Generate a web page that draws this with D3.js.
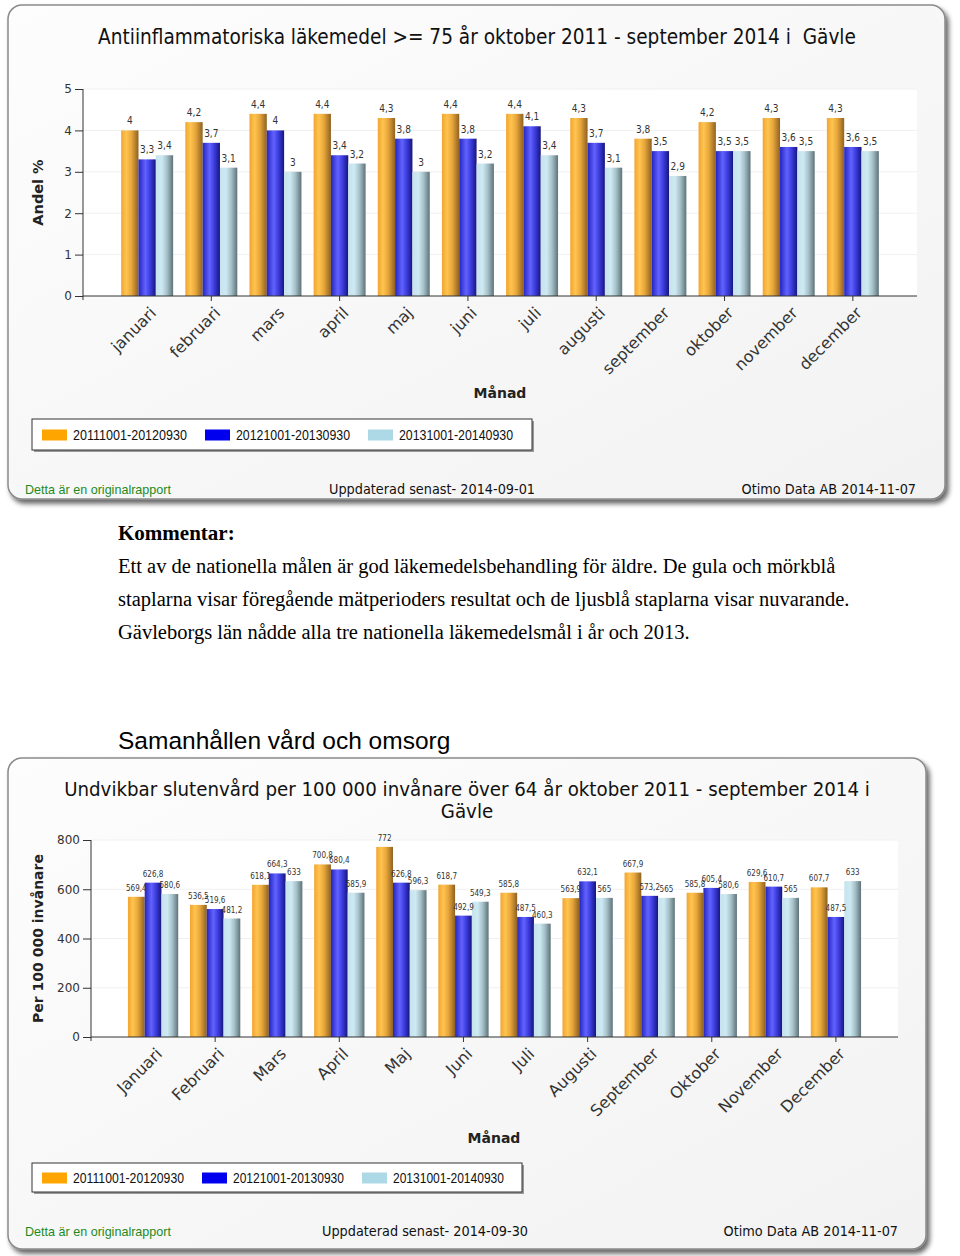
<!DOCTYPE html>
<html><head><meta charset="utf-8">
<script src="https://cdn.jsdelivr.net/npm/d3@7/dist/d3.min.js"></script>
<style>body{margin:0;background:#fff}svg{display:block}</style>
</head><body>
<script>
// ---------- DATA ----------
const monthsLower = ["januari","februari","mars","april","maj","juni","juli","augusti","september","oktober","november","december"];
const monthsCap = ["Januari","Februari","Mars","April","Maj","Juni","Juli","Augusti","September","Oktober","November","December"];
const periods = ["20111001-20120930","20121001-20130930","20131001-20140930"];

const antiinfl_2011_12 = [4, 4.2, 4.4, 4.4, 4.3, 4.4, 4.4, 4.3, 3.8, 4.2, 4.3, 4.3];
const antiinfl_2012_13 = [3.3, 3.7, 4, 3.4, 3.8, 3.8, 4.1, 3.7, 3.5, 3.5, 3.6, 3.6];
const antiinfl_2013_14 = [3.4, 3.1, 3, 3.2, 3, 3.2, 3.4, 3.1, 2.9, 3.5, 3.5, 3.5];
const antiinflTicks = [0, 1, 2, 3, 4, 5];

const sluten_2011_12 = [569.4, 536.5, 618.1, 700.8, 772, 618.7, 585.8, 563.9, 667.9, 585.8, 629.6, 607.7];
const sluten_2012_13 = [626.8, 519.6, 664.3, 680.4, 626.8, 492.9, 487.5, 632.1, 573.2, 605.4, 610.7, 487.5];
const sluten_2013_14 = [580.6, 481.2, 633, 585.9, 596.3, 549.3, 460.3, 565, 565, 580.6, 565, 633];
const slutenTicks = [0, 200, 400, 600, 800];

// ---------- SETUP ----------
const W = 960, H = 1256;
const svg = d3.select("body").append("svg").attr("width", W).attr("height", H);
const defs = svg.append("defs");

const shadow = defs.append("filter").attr("id","shadow").attr("x","-5%").attr("y","-5%").attr("width","115%").attr("height","115%");
shadow.append("feGaussianBlur").attr("in","SourceAlpha").attr("stdDeviation",2.5);
shadow.append("feOffset").attr("dx",3).attr("dy",4).attr("result","ob");
shadow.append("feComponentTransfer").append("feFuncA").attr("type","linear").attr("slope",0.6);
const fm = shadow.append("feMerge"); fm.append("feMergeNode"); fm.append("feMergeNode").attr("in","SourceGraphic");

const panelGrad = defs.append("linearGradient").attr("id","panelGrad").attr("x1",0).attr("y1",0).attr("x2",1).attr("y2",1);
panelGrad.append("stop").attr("offset","0%").attr("stop-color","#fdfdfd");
panelGrad.append("stop").attr("offset","100%").attr("stop-color","#f2f2f2");

function grad(id, stops){
  const g = defs.append("linearGradient").attr("id",id).attr("x1",0).attr("y1",0).attr("x2",1).attr("y2",0);
  stops.forEach(s => g.append("stop").attr("offset", s[0]).attr("stop-color", s[1]));
}
grad("g0", [["0%","#f2a431"],["30%","#ffc44f"],["60%","#e7a53a"],["100%","#8d6222"]]);
grad("g1", [["0%","#2424c0"],["40%","#6262ff"],["70%","#3838d8"],["100%","#16167a"]]);
grad("g2", [["0%","#c6e2ec"],["35%","#cde9f2"],["65%","#a6c0c8"],["100%","#5e7279"]]);
const legendColors = ["#ffa500","#0000ee","#add8e6"];

const fmt = v => String(v).replace(".", ",");
const condensed = "'DejaVu Sans Condensed','DejaVu Sans',sans-serif";

function drawPanel(cfg){
  const g = svg.append("g");
  g.append("rect").attr("x",cfg.px).attr("y",cfg.py).attr("width",cfg.pw).attr("height",cfg.ph)
    .attr("rx",14).attr("fill","url(#panelGrad)").attr("stroke","#8a8a8a").attr("stroke-width",1.5)
    .attr("filter","url(#shadow)");

  cfg.title.forEach((t,i) => {
    g.append("text").attr("x",cfg.titleX).attr("y",cfg.titleY + i*22).attr("text-anchor","middle")
      .attr("font-family",condensed).attr("font-size",cfg.titleSize).style("white-space","pre")
      .attr("fill","#111").text(t);
  });

  const n = cfg.cats.length;
  const bw = (cfg.x1 - cfg.x0) / (n + 1);
  const x = d3.scaleBand().domain(cfg.cats).range([cfg.x0 + bw/2, cfg.x1 - bw/2]).paddingInner(0).paddingOuter(0);
  const y = d3.scaleLinear().domain([0, cfg.ticks[cfg.ticks.length-1]]).range([cfg.y0, cfg.yTop]);
  const xs = d3.scaleBand().domain([0,1,2]).range([-bw*0.405, bw*0.405]);

  g.append("rect").attr("x",cfg.x0).attr("y",cfg.yTop).attr("width",cfg.x1-cfg.x0).attr("height",cfg.y0-cfg.yTop).attr("fill","#fff");
  g.selectAll(".grid").data(cfg.ticks.slice(1)).join("line")
    .attr("x1",cfg.x0).attr("x2",cfg.x1).attr("y1",d=>y(d)).attr("y2",d=>y(d))
    .attr("stroke","#f0f0f0").attr("stroke-width",1);

  const series = cfg.series;
  series.forEach((vals, si) => {
    g.append("g").selectAll("rect").data(vals).join("rect")
      .attr("x",(d,i)=>x(cfg.cats[i]) + x.bandwidth()/2 + xs(si))
      .attr("y",d=>y(d)).attr("width",xs.bandwidth()).attr("height",d=>cfg.y0 - y(d))
      .attr("fill",`url(#g${si})`);
  });
  series.forEach((vals, si) => {
    g.append("g").selectAll("text").data(vals).join("text")
      .attr("x",(d,i)=>x(cfg.cats[i]) + x.bandwidth()/2 + xs(si) + xs.bandwidth()/2)
      .attr("y",d=>y(d) - 6).attr("text-anchor","middle")
      .attr("font-family",condensed).attr("font-size",cfg.valSize)
      .attr("fill","#333").text(d=>fmt(d));
  });

  const ya = g.append("g").attr("transform",`translate(${cfg.x0},0)`)
    .call(d3.axisLeft(y).tickValues(cfg.ticks).tickFormat(d=>String(d)).tickSize(8).tickSizeOuter(0).tickPadding(3));
  ya.select(".domain").attr("stroke","#333").attr("d",`M0,${cfg.yTop}V${cfg.y0+4}`);
  ya.selectAll(".tick line").attr("stroke","#333");
  ya.selectAll("text").attr("font-family","'DejaVu Sans',sans-serif").attr("font-size",12).attr("fill","#333");

  const xa = g.append("g").attr("transform",`translate(0,${cfg.y0})`)
    .call(d3.axisBottom(x).tickSize(5).tickSizeOuter(0));
  xa.select(".domain").attr("stroke","#333").attr("d",`M${cfg.x0},0H${cfg.x1}`);
  xa.selectAll(".tick line").attr("stroke","#333").attr("opacity",(d,i)=> i%2===1 ? 1 : 0);
  xa.selectAll(".tick text")
    .attr("font-family","'DejaVu Sans',sans-serif").attr("font-size",16).attr("fill","#333")
    .attr("text-anchor","end").attr("x",0).attr("y",0).attr("dy","0.35em")
    .attr("transform","translate(6,14) rotate(-45)");

  g.append("text").attr("transform",`translate(${cfg.yLabelX},${(cfg.y0+cfg.yTop)/2}) rotate(-90)`)
    .attr("text-anchor","middle").attr("font-family","'DejaVu Sans',sans-serif").attr("font-weight","bold")
    .attr("font-size",cfg.yLabelSize).attr("fill","#222").text(cfg.yLabel);
  g.append("text").attr("x",cfg.xLabelX).attr("y",cfg.xLabelY).attr("text-anchor","middle")
    .attr("font-family","'DejaVu Sans',sans-serif").attr("font-weight","bold").attr("font-size",14)
    .attr("fill","#222").text("Månad");

  const lg = g.append("g").attr("transform",`translate(${cfg.lx},${cfg.ly})`);
  lg.append("rect").attr("x",2).attr("y",2).attr("width",cfg.lw).attr("height",cfg.lh).attr("fill","#999");
  lg.append("rect").attr("width",cfg.lw).attr("height",cfg.lh).attr("fill","#fff").attr("stroke","#333");
  periods.forEach((p,i) => {
    const ox = 10 + i*cfg.lstep;
    lg.append("rect").attr("x",ox).attr("y",cfg.lh/2-5).attr("width",25).attr("height",11).attr("fill",legendColors[i]);
    lg.append("text").attr("x",ox+31).attr("y",cfg.lh/2+5).attr("font-family","'Liberation Sans',Arial,sans-serif")
      .attr("font-size",14.5).attr("textLength",cfg.ltl).attr("lengthAdjust","spacingAndGlyphs")
      .attr("fill","#111").text(p);
  });

  g.append("text").attr("x",25).attr("y",cfg.fy).attr("font-family","'Liberation Sans',Arial,sans-serif")
    .attr("font-size",13.5).attr("textLength",146).attr("lengthAdjust","spacingAndGlyphs")
    .attr("fill","#1d8a1d").text("Detta är en originalrapport");
  g.append("text").attr("x",cfg.fmidX).attr("y",cfg.fy).attr("text-anchor","middle").attr("font-family",condensed)
    .attr("font-size",14.3).attr("fill","#111").text(cfg.updated);
  g.append("text").attr("x",cfg.fRight).attr("y",cfg.fy).attr("text-anchor","end").attr("font-family",condensed)
    .attr("font-size",14.3).attr("fill","#111").text("Otimo Data AB 2014-11-07");
}

drawPanel({
  px:8, py:5, pw:937, ph:494,
  title:["Antiinflammatoriska läkemedel >= 75 år oktober 2011 - september 2014 i  Gävle"], titleX:477, titleY:44, titleSize:20.6,
  cats: monthsLower, series:[antiinfl_2011_12, antiinfl_2012_13, antiinfl_2013_14], ticks: antiinflTicks,
  x0:83, x1:917, y0:296, yTop:89, valSize:10,
  yLabel:"Andel %", yLabelX:43, yLabelSize:14.5, xLabelX:500, xLabelY:398,
  lx:32, ly:419, lw:500, lh:31, lstep:163, ltl:114,
  fy:494, fmidX:432, fRight:916, updated:"Uppdaterad senast- 2014-09-01"
});

const cm = svg.append("g").attr("font-family","'Liberation Serif','DejaVu Serif',serif").attr("fill","#000");
cm.append("text").attr("x",118).attr("y",540).attr("font-weight","bold").attr("font-size",21).text("Kommentar:");
["Ett av de nationella målen är god läkemedelsbehandling för äldre. De gula och mörkblå",
 "staplarna visar föregående mätperioders resultat och de ljusblå staplarna visar nuvarande.",
 "Gävleborgs län nådde alla tre nationella läkemedelsmål i år och 2013."].forEach((t,i)=>{
  cm.append("text").attr("x",118).attr("y",573 + i*33).attr("font-size",20.5).text(t);
});
svg.append("text").attr("x",118).attr("y",749).attr("font-family","'Liberation Sans',Arial,sans-serif")
  .attr("font-size",24.5).attr("fill","#000").text("Samanhållen vård och omsorg");

drawPanel({
  px:8, py:758, pw:918, ph:491,
  title:["Undvikbar slutenvård per 100 000 invånare över 64 år oktober 2011 - september 2014 i","Gävle"], titleX:467, titleY:796, titleSize:20.25,
  cats: monthsCap, series:[sluten_2011_12, sluten_2012_13, sluten_2013_14], ticks: slutenTicks,
  x0:91, x1:898, y0:1037, yTop:840, valSize:8,
  yLabel:"Per 100 000 invånare", yLabelX:43, yLabelSize:14, xLabelX:494, xLabelY:1143,
  lx:32, ly:1163, lw:490, lh:29, lstep:160, ltl:111,
  fy:1236, fmidX:425, fRight:898, updated:"Uppdaterad senast- 2014-09-30"
});
</script>
</body></html>
